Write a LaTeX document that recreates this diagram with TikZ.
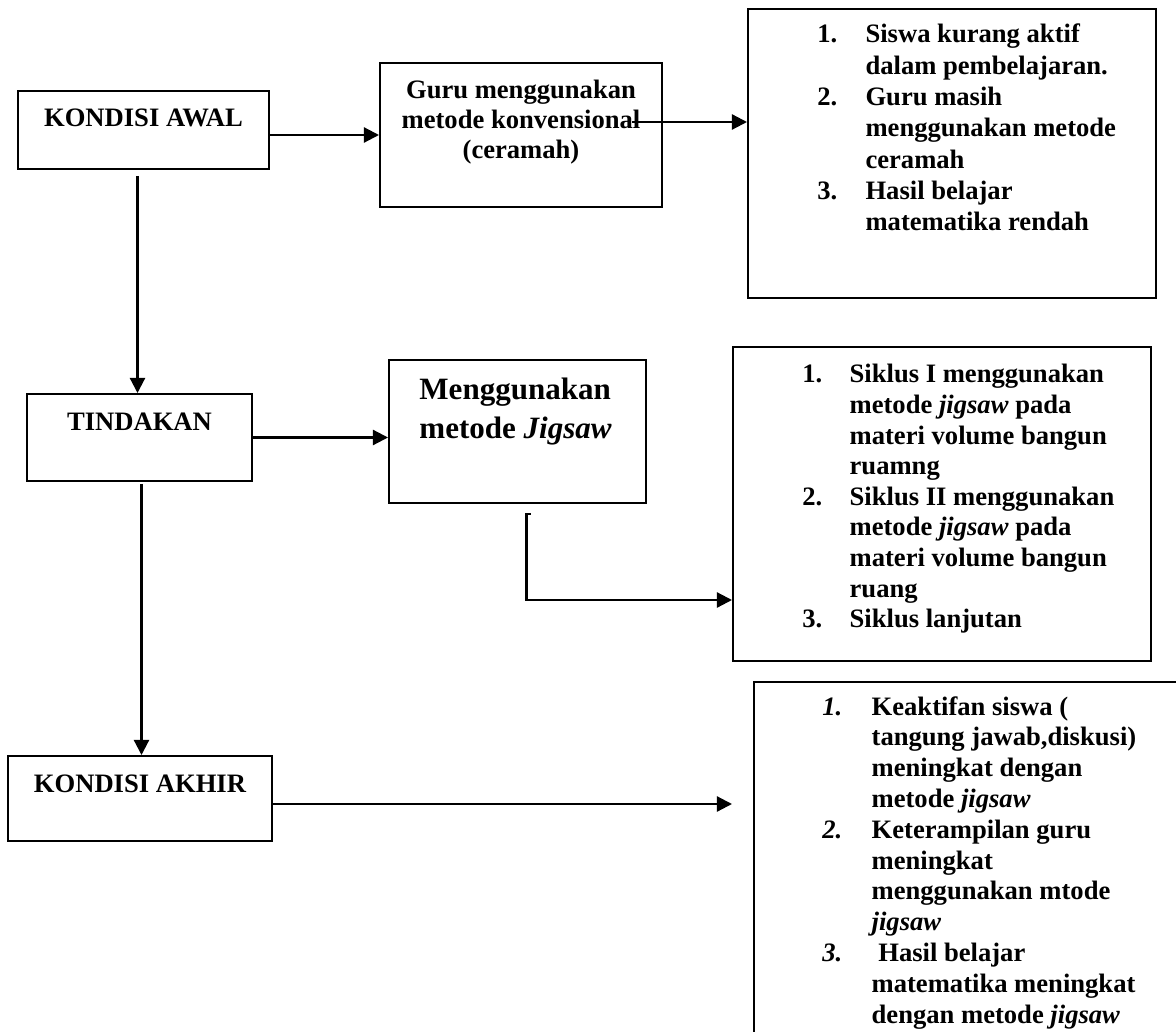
\documentclass[tikz,border=0pt]{standalone}
\usepackage{fontspec}
\setmainfont{Liberation Serif}
\usetikzlibrary{arrows.meta}

\begin{document}
\begin{tikzpicture}[x=0.4511pt, y=-0.4511pt,
  box/.style 2 args={draw, line width=.9pt, inner sep=0pt, minimum width=#1*0.4511pt, minimum height=#2*0.4511pt},
  lbl/.style={inner sep=0pt, font=\bfseries\fontsize{12}{13.9}\selectfont},
  arr/.style={line width=1pt, -{Triangle[length=6.8pt,width=6.8pt]}}]
\useasboundingbox (0,0) rectangle (1176,1032);
\clip (0,0) rectangle (1176,1032);

\node[box={251}{78}] (awal) at (143.5,130) {};
\node[box={282}{144}] (guru) at (521,135) {};
\node[box={408}{289}] (hasil1) at (952,153.5) {};
\node[box={225}{87}] (tindakan) at (139.5,437.5) {};
\node[box={257}{143}] (jigsaw) at (517.5,431.5) {};
\node[box={418}{314}] (siklus) at (942,504) {};
\node[box={264}{85}] (akhir) at (140,798.5) {};
\node[box={460}{400}, anchor=north west] (hasil3) at (753,681) {};

\node[lbl, anchor=base] (awal-t) at (143.5,127) {KONDISI AWAL};
\node[lbl, anchor=base] (tindakan-t) at (139.5,431) {TINDAKAN};
\node[lbl, anchor=base] (akhir-t) at (140,792) {KONDISI AKHIR};
\node[lbl, font=\bfseries\fontsize{12}{13.4}\selectfont, anchor=base] (guru-t) at (521,99)
  {\begin{tabular}[t]{@{}c@{}}Guru menggunakan\\metode konvensional\\(ceramah)\end{tabular}};
\node[lbl, font=\bfseries\fontsize{14}{17.2}\selectfont, anchor=base west] (jigsaw-t) at (419,400)
  {\begin{tabular}[t]{@{}l@{}}Menggunakan\\metode \textit{Jigsaw}\end{tabular}};
\node[lbl, font=\bfseries\fontsize{12}{14.1}\selectfont, anchor=base west] (hasil1-t) at (817,43)
  {\begin{tabular}[t]{@{}p{21.7pt}@{}l@{}}
  1. & Siswa kurang aktif\\
     & dalam pembelajaran.\\
  2. & Guru masih\\
     & menggunakan metode\\
     & ceramah\\
  3. & Hasil belajar\\
     & matematika rendah
  \end{tabular}};
\node[lbl, font=\bfseries\fontsize{12}{13.8}\selectfont, anchor=base west] (siklus-t) at (802,383)
  {\begin{tabular}[t]{@{}p{21.3pt}@{}l@{}}
  1. & Siklus I menggunakan\\
     & metode \textit{jigsaw} pada\\
     & materi volume bangun\\
     & ruamng\\
  2. & Siklus II menggunakan\\
     & metode \textit{jigsaw} pada\\
     & materi volume bangun\\
     & ruang\\
  3. & Siklus lanjutan
  \end{tabular}};
\node[lbl, font=\bfseries\fontsize{12}{13.9}\selectfont, anchor=base west] (hasil3-t) at (822,715)
  {\begin{tabular}[t]{@{}p{22.2pt}@{}l@{}}
  \textit{1.} & Keaktifan siswa (\\
     & tangung jawab,diskusi)\\
     & meningkat dengan\\
     & metode \textit{jigsaw}\\
  \textit{2.} & Keterampilan guru\\
     & meningkat\\
     & menggunakan mtode\\
     & \textit{jigsaw}\\
  \textit{3.} & \ Hasil belajar\\
     & matematika meningkat\\
     & dengan metode \textit{jigsaw}
  \end{tabular}};

\coordinate (guru-o) at (632,122);
\coordinate (akhir-o) at (732,804);
\draw[arr] (awal.east |- guru.west) -- (guru.west);
\draw[arr] (guru-o) -- (hasil1.west |- guru-o);
\draw[arr] ([shift={(-6,6)}]awal.south) -- ([shift={(-2,0)}]tindakan.north);
\draw[arr] (tindakan.east) -- (jigsaw.west |- tindakan.east);
\draw[arr] ([shift={(13,10)}]jigsaw.south) -- ++(-4,0) |- ([shift={(0,96)}]siklus.west);
\draw[arr] ([shift={(2,2)}]tindakan.south) -- ([shift={(1.5,0)}]akhir.north);
\draw[arr] (akhir.east |- akhir-o) -- (akhir-o);
\end{tikzpicture}
\end{document}
